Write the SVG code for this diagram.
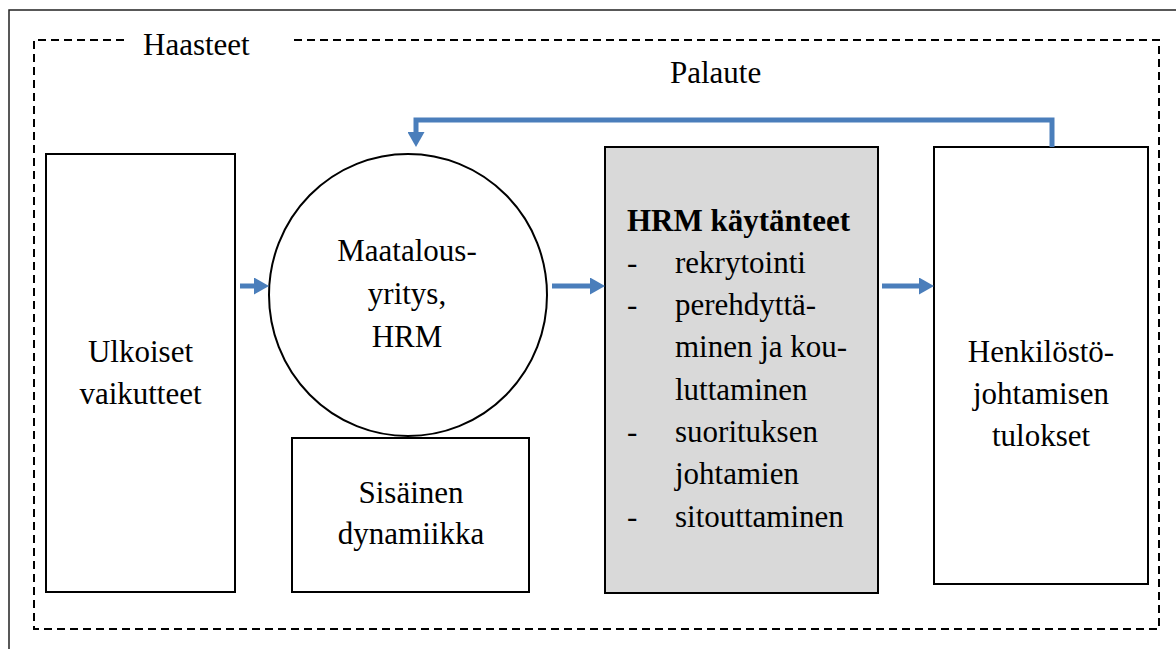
<svg xmlns="http://www.w3.org/2000/svg" width="1176" height="649" viewBox="0 0 1176 649">
  <style>
    .t { font-size: 31px; fill: #000; }
    .c { text-anchor: middle; }
    .box { fill: #fff; stroke: #000; stroke-width: 2; }
    .conn { fill: none; stroke: #4A7EBB; stroke-width: 5; }
  </style>
  <defs>
    <marker id="ah" markerUnits="userSpaceOnUse" viewBox="0 0 15 17" markerWidth="15" markerHeight="17" refX="5" refY="8.5" orient="auto">
      <path d="M0,0 L15,8.5 L0,17 z" fill="#4A7EBB"/>
    </marker>
  </defs>
  <rect width="1176" height="649" fill="#fff"/>

  <g font-family="Liberation Serif" font-size="31">
  <g id="frame">
    <path d="M9,649 V10 H1176" fill="none" stroke="#222" stroke-width="1.5"/>
    <path d="M124,40 H34 V629 H1159 V40 H293" fill="none" stroke="#000" stroke-width="2" stroke-dasharray="8 5"/>
    <text class="t" x="143" y="55">Haasteet</text>
    <text class="t" x="670" y="83">Palaute</text>
  </g>

  <g id="ulkoiset">
    <rect class="box" x="46" y="154" width="189" height="438"/>
    <text class="t c" x="140.5" y="362">Ulkoiset</text>
    <text class="t c" x="140.5" y="404">vaikutteet</text>
  </g>

  <g id="maatalousyritys">
    <ellipse class="box" cx="408" cy="295" rx="139" ry="141"/>
    <text class="t c" x="407" y="261">Maatalous-</text>
    <text class="t c" x="407" y="304">yritys,</text>
    <text class="t c" x="407" y="347">HRM</text>
  </g>

  <g id="sisainen">
    <rect class="box" x="292" y="438" width="237" height="154"/>
    <text class="t c" x="411" y="503">Sisäinen</text>
    <text class="t c" x="411" y="544">dynamiikka</text>
  </g>

  <g id="hrm-kaytanteet">
    <rect x="605" y="147" width="273" height="446" fill="#d9d9d9" stroke="#000" stroke-width="2"/>
    <text class="t" x="627" y="231" font-weight="bold">HRM käytänteet</text>
    <text class="t" x="627" y="273">-</text>
    <text class="t" x="675" y="273">rekrytointi</text>
    <text class="t" x="627" y="315">-</text>
    <text class="t" x="675" y="315">perehdyttä-</text>
    <text class="t" x="675" y="357">minen ja kou-</text>
    <text class="t" x="675" y="400">luttaminen</text>
    <text class="t" x="627" y="442">-</text>
    <text class="t" x="675" y="442">suorituksen</text>
    <text class="t" x="675" y="484">johtamien</text>
    <text class="t" x="627" y="527">-</text>
    <text class="t" x="675" y="527">sitouttaminen</text>
  </g>

  <g id="henkilostojohtamisen-tulokset">
    <rect class="box" x="934" y="147" width="214" height="437"/>
    <text class="t c" x="1041" y="362">Henkilöstö-</text>
    <text class="t c" x="1041" y="404">johtamisen</text>
    <text class="t c" x="1041" y="446">tulokset</text>
  </g>
  </g>

  <g id="connectors">
    <path class="conn" d="M240,286 H259" marker-end="url(#ah)"/>
    <path class="conn" d="M552,286 H595" marker-end="url(#ah)"/>
    <path class="conn" d="M882,286 H924" marker-end="url(#ah)"/>
    <path class="conn" d="M1052,147 V120 H416 V137" marker-end="url(#ah)"/>
  </g>
</svg>
